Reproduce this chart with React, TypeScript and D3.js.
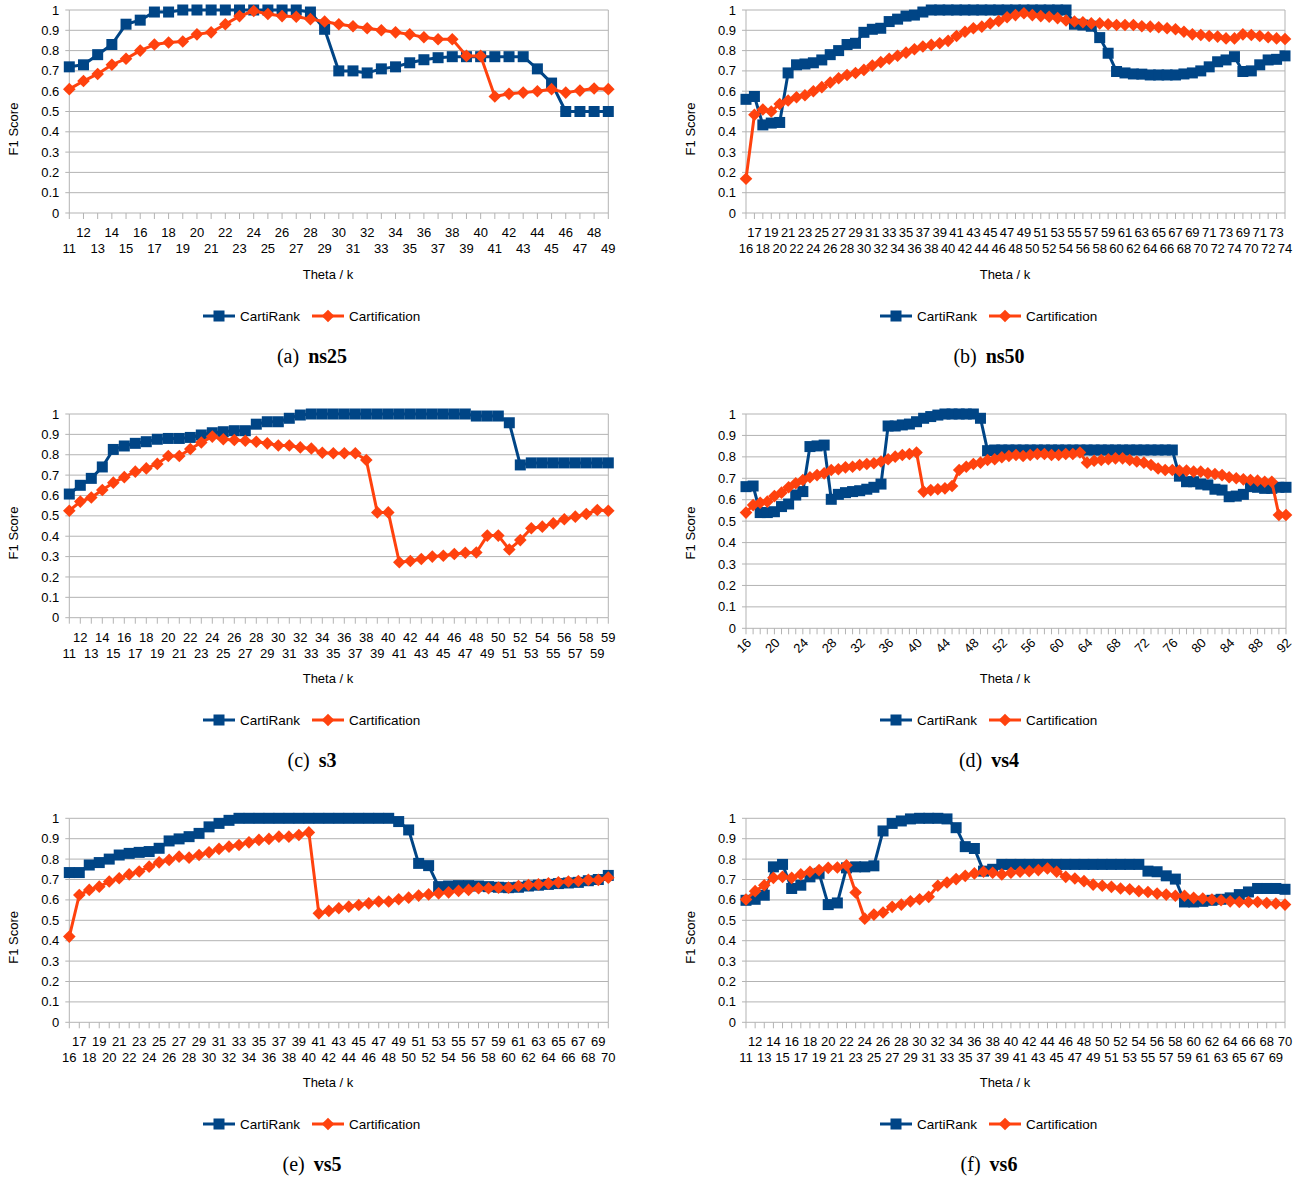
import React from 'react';
import * as d3 from 'd3';

const BLUE = '#004586';
const ORANGE = '#ff420e';
const GRID = '#b3b3b3';
const SANS = '"Liberation Sans", Arial, sans-serif';
const SERIF = '"Liberation Serif", "Times New Roman", serif';

const yTickValues = [0, 0.1, 0.2, 0.3, 0.4, 0.5, 0.6, 0.7, 0.8, 0.9, 1];
const yTickLabels = ['0', '0.1', '0.2', '0.3', '0.4', '0.5', '0.6', '0.7', '0.8', '0.9', '1'];
const seriesNames = ['CartiRank', 'Cartification'];

// (a) ns25
const aCats = [11,12,13,14,15,16,17,18,19,20,21,22,23,24,25,26,27,28,29,30,31,32,33,34,35,36,37,38,39,40,41,42,43,44,45,46,47,48,49];
const aCarti = [0.72,0.73,0.78,0.83,0.93,0.95,0.99,0.99,1,1,1,1,1,1,1,1,1,0.99,0.905,0.70,0.70,0.69,0.71,0.72,0.74,0.755,0.765,0.77,0.77,0.77,0.77,0.77,0.77,0.71,0.64,0.50,0.50,0.50,0.50];
const aCert = [0.61,0.65,0.685,0.73,0.76,0.80,0.83,0.84,0.845,0.88,0.89,0.93,0.97,0.995,0.98,0.97,0.967,0.955,0.943,0.93,0.92,0.91,0.90,0.89,0.88,0.866,0.856,0.856,0.774,0.774,0.574,0.587,0.593,0.60,0.61,0.593,0.603,0.613,0.61];

// (b) ns50
const bCats = [16,17,18,19,20,21,22,23,24,25,26,27,28,29,30,31,32,33,34,35,36,37,38,39,40,41,42,43,44,45,46,47,48,49,50,51,52,53,54,55,56,57,58,59,60,61,62,63,64,65,66,67,68,69,70,71,72,73,74,69,70,71,72,73,74];
const bCarti = [0.56,0.574,0.434,0.443,0.446,0.69,0.73,0.734,0.74,0.754,0.78,0.80,0.83,0.836,0.89,0.905,0.91,0.943,0.955,0.97,0.975,0.99,
  1,1,1,1,1,1,1,1,1,1,1,1,1,1,1,1,1,
  0.93,0.926,0.92,0.864,0.787,0.697,0.69,0.685,0.684,0.68,0.68,0.68,0.68,0.685,0.69,0.70,0.72,0.745,0.754,0.77,
  0.697,0.70,0.73,0.754,0.757,0.774];
const bCert = [0.169,0.484,0.51,0.50,0.537,0.554,0.57,0.58,0.60,0.62,0.643,0.664,0.68,0.69,0.705,0.726,0.743,0.76,0.775,0.79,0.807,0.82,0.828,0.836,0.848,0.872,0.893,0.91,0.918,0.934,0.946,0.964,0.975,0.984,0.975,0.97,0.967,0.96,0.948,0.943,0.94,0.934,0.934,0.93,0.926,0.926,0.926,0.92,0.918,0.915,0.91,0.905,0.893,0.88,0.877,0.872,0.869,0.86,0.86,
  0.88,0.877,0.872,0.866,0.86,0.857];

// (c) s3
const cCats = [11,12,13,14,15,16,17,18,19,20,21,22,23,24,25,26,27,28,29,30,31,32,33,34,35,36,37,38,39,40,41,42,43,44,45,46,47,48,49,50,51,52,53,54,55,56,57,58,59,59];
const cCarti = [0.607,0.65,0.684,0.74,0.826,0.843,0.856,0.864,0.876,0.88,0.88,0.885,0.897,0.908,0.913,0.918,0.918,0.95,0.962,0.962,0.979,0.995,
  1,1,1,1,1,1,1,1,1,1,1,1,1,1,1,
  0.99,0.99,0.99,0.957,0.75,0.76,0.76,0.76,0.76,0.76,0.76,0.76,0.76];
const cCert = [0.525,0.57,0.59,0.627,0.663,0.69,0.717,0.733,0.755,0.794,0.794,0.828,0.86,0.889,0.876,0.872,0.869,0.864,0.856,0.845,0.845,0.836,0.831,0.81,0.807,0.807,0.807,0.774,0.517,0.517,0.272,0.278,0.288,0.30,0.304,0.313,0.319,0.32,0.403,0.403,0.335,0.381,0.439,0.447,0.463,0.483,0.496,0.509,0.529,0.525];

// (d) vs4
const dCats = [16,17,18,19,20,21,22,23,24,25,26,27,28,29,30,31,32,33,34,35,36,37,38,39,40,41,42,43,44,45,46,47,48,49,50,51,52,53,54,55,56,57,58,59,60,61,62,63,64,65,66,67,68,69,70,71,72,73,74,75,76,77,78,79,80,81,82,83,84,85,86,87,88,89,90,91,92];
const dCarti = [0.661,0.664,0.54,0.54,0.544,0.568,0.58,0.622,0.638,0.848,0.851,0.855,0.602,0.625,0.633,0.638,0.642,0.649,0.658,0.673,0.944,0.944,0.949,0.953,0.964,0.98,0.988,0.995,1,1,1,1,1,0.98,0.829,0.832,
  0.832,0.832,0.832,0.832,0.832,0.832,0.832,0.832,0.832,0.832,0.832,0.832,0.832,0.832,0.832,0.832,0.832,0.832,0.832,0.832,0.832,0.832,0.832,0.832,0.832,
  0.71,0.684,0.684,0.673,0.669,0.649,0.645,0.614,0.617,0.625,0.661,0.658,0.653,0.653,0.658,0.658];
const dCert = [0.54,0.575,0.586,0.591,0.617,0.633,0.658,0.677,0.692,0.705,0.715,0.723,0.739,0.742,0.751,0.754,0.762,0.767,0.77,0.778,0.789,0.801,0.809,0.813,0.82,0.638,0.645,0.649,0.653,0.664,0.739,0.754,0.767,0.773,0.785,
  0.789,0.798,0.804,0.809,0.804,0.809,0.813,0.813,0.809,0.809,0.813,0.813,0.82,0.773,0.782,0.785,0.789,0.793,0.793,0.785,0.778,0.773,0.762,0.746,0.739,0.739,0.736,0.736,0.731,0.731,0.723,0.72,0.715,0.705,0.70,0.695,0.692,0.689,0.684,0.684,0.529,0.529];

// (e) vs5
const eCats = [16,17,18,19,20,21,22,23,24,25,26,27,28,29,30,31,32,33,34,35,36,37,38,39,40,41,42,43,44,45,46,47,48,49,50,51,52,53,54,55,56,57,58,59,60,61,62,63,64,65,66,67,68,69,70];
const eCarti = [0.734,0.734,0.771,0.783,0.80,0.82,0.828,0.833,0.837,0.853,0.889,0.899,0.91,0.926,0.958,0.975,0.99,1,
  1,1,1,1,1,1,1,1,1,1,1,1,1,1,1,
  0.984,0.943,0.779,0.768,0.665,
  0.668,0.67,0.67,0.668,0.665,0.662,0.66,0.662,0.668,0.672,0.676,0.68,0.683,0.686,0.694,0.70,0.72];
const eCert = [0.42,0.624,0.649,0.665,0.69,0.706,0.725,0.739,0.763,0.784,0.796,0.812,0.807,0.82,0.833,0.85,0.861,0.869,0.882,0.894,0.899,0.91,0.91,0.918,0.931,0.534,0.546,
  0.559,0.567,0.575,0.583,0.592,0.592,0.603,0.611,0.621,0.627,0.632,0.637,0.644,0.649,0.657,0.657,0.66,0.66,0.668,0.673,0.676,0.681,0.686,0.69,0.693,0.698,0.698,0.709];

// (f) vs6
const fCats = [11,12,13,14,15,16,17,18,19,20,21,22,23,24,25,26,27,28,29,30,31,32,33,34,35,36,37,38,39,40,41,42,43,44,45,46,47,48,49,50,51,52,53,54,55,56,57,58,59,60,61,62,63,64,65,66,67,68,69,70];
const fCarti = [0.598,0.603,0.623,0.762,0.774,0.656,0.672,0.713,0.73,0.577,0.585,0.757,0.762,0.762,0.767,0.938,0.975,0.987,0.997,1,1,1,0.997,0.954,0.861,0.852,0.741,0.75,
  0.774,0.774,0.774,0.774,0.774,0.774,0.774,0.774,0.774,0.774,0.774,0.774,0.774,0.774,0.774,0.774,
  0.741,0.738,0.718,0.702,0.59,0.59,0.593,0.598,0.603,0.61,0.626,0.639,0.656,0.656,0.656,0.652];
const fCert = [0.602,0.643,0.672,0.708,0.713,0.708,0.725,0.738,0.746,0.757,0.759,0.77,0.636,0.508,0.528,0.538,0.566,0.577,0.593,0.603,0.615,0.669,0.685,0.702,0.718,0.73,0.738,0.733,
  0.725,0.733,0.738,0.741,0.746,0.754,0.738,0.713,0.705,0.692,0.675,0.669,0.664,0.656,0.652,0.643,0.639,0.631,0.626,0.62,0.62,0.61,0.607,0.602,0.598,0.593,0.59,0.59,0.59,0.585,0.582,0.577];

type Cfg = {
  cats: number[]; carti: number[]; cert: number[];
  x0: number; x1: number; yTop: number; yBot: number; rotated?: boolean;
  letter: string; name: string; titleY: number; legendY: number; captionY: number;
  center: number; yLabelX: number; titleX: number;
};

const L = { x0: 69.3, x1: 608.3, center: 312, yLabelX: 18, titleX: 328 };
const R = { x0: 746, x1: 1285, center: 989, yLabelX: 695, titleX: 1005 };
const row1 = { yTop: 10, yBot: 213, titleY: 279, legendY: 316, captionY: 363 };
const row2 = { yTop: 414, yBot: 617.7, titleY: 683, legendY: 720, captionY: 767 };
const row3 = { yTop: 818.3, yBot: 1022.3, titleY: 1087, legendY: 1124, captionY: 1171 };

const panels: Cfg[] = [
  { cats: aCats, carti: aCarti, cert: aCert, ...L, ...row1, letter: '(a)', name: 'ns25' },
  { cats: bCats, carti: bCarti, cert: bCert, ...R, ...row1, letter: '(b)', name: 'ns50' },
  { cats: cCats, carti: cCarti, cert: cCert, ...L, ...row2, letter: '(c)', name: 's3' },
  { cats: dCats, carti: dCarti, cert: dCert, ...R, ...row2, yBot: 628.3, x1: 1286, rotated: true, letter: '(d)', name: 'vs4' },
  { cats: eCats, carti: eCarti, cert: eCert, ...L, ...row3, letter: '(e)', name: 'vs5' },
  { cats: fCats, carti: fCarti, cert: fCert, ...R, ...row3, letter: '(f)', name: 'vs6' },
];

const SQ = 11;
const DI = 6.3;

function Square({ cx, cy }: { cx: number; cy: number }) {
  return <rect x={cx - SQ / 2} y={cy - SQ / 2} width={SQ} height={SQ} fill={BLUE} />;
}
function Diamond({ cx, cy }: { cx: number; cy: number }) {
  return <polygon points={`${cx},${cy - DI} ${cx + DI},${cy} ${cx},${cy + DI} ${cx - DI},${cy}`} fill={ORANGE} />;
}

function Panel({ cfg }: { cfg: Cfg }) {
  const idx = cfg.cats.map((_, i) => String(i));
  const x = d3.scalePoint<string>().domain(idx).range([cfg.x0, cfg.x1]).padding(0);
  const y = d3.scaleLinear().domain([0, 1]).range([cfg.yBot, cfg.yTop]);
  const line = d3.line<number>().x((_, i) => x(String(i)) as number).y((d) => y(d));
  const labelY = cfg.yTop + 119;
  const lx = cfg.center - 109;
  return (
    <g>
      {yTickValues.map((v, i) => (
        <g key={'y' + i}>
          <line x1={cfg.x0} x2={cfg.x1} y1={y(v)} y2={y(v)} stroke={GRID} strokeWidth={1} />
          <line x1={cfg.x0 - 4} x2={cfg.x0} y1={y(v)} y2={y(v)} stroke={GRID} strokeWidth={1} />
          <text x={cfg.x0 - 10} y={y(v)} dy="0.35em" textAnchor="end" fontSize={13} fontFamily={SANS} fill="#000">
            {yTickLabels[i]}
          </text>
        </g>
      ))}
      <line x1={cfg.x0} x2={cfg.x0} y1={cfg.yTop} y2={cfg.yBot} stroke={GRID} strokeWidth={1} />
      <line x1={cfg.x1} x2={cfg.x1} y1={cfg.yTop} y2={cfg.yBot} stroke={GRID} strokeWidth={1} />
      {cfg.cats.map((c, i) => {
        const px = x(String(i)) as number;
        return (
          <g key={'x' + i}>
            <line x1={px} x2={px} y1={cfg.yBot} y2={cfg.yBot + 6} stroke={GRID} strokeWidth={1} />
            {cfg.rotated ? (
              i % 4 === 0 ? (
                <text transform={`translate(${px + 3},${cfg.yBot + 12}) rotate(-45)`} dy="0.35em" textAnchor="end" fontSize={13} fontFamily={SANS}>
                  {c}
                </text>
              ) : null
            ) : (
              <text x={px} y={cfg.yBot + (i % 2 === 0 ? 40 : 24)} textAnchor="middle" fontSize={13} fontFamily={SANS}>
                {c}
              </text>
            )}
          </g>
        );
      })}
      <text transform={`translate(${cfg.yLabelX},${labelY}) rotate(-90)`} textAnchor="middle" fontSize={13} fontFamily={SANS}>
        F1 Score
      </text>
      <text x={cfg.titleX} y={cfg.titleY} textAnchor="middle" fontSize={13} fontFamily={SANS}>
        Theta / k
      </text>
      <path d={line(cfg.carti) || ''} fill="none" stroke={BLUE} strokeWidth={3} strokeLinejoin="round" />
      {cfg.carti.map((v, i) => (
        <Square key={'s' + i} cx={x(String(i)) as number} cy={y(v)} />
      ))}
      <path d={line(cfg.cert) || ''} fill="none" stroke={ORANGE} strokeWidth={3} strokeLinejoin="round" />
      {cfg.cert.map((v, i) => (
        <Diamond key={'d' + i} cx={x(String(i)) as number} cy={y(v)} />
      ))}
      {/* legend */}
      <line x1={lx} x2={lx + 32} y1={cfg.legendY} y2={cfg.legendY} stroke={BLUE} strokeWidth={3} />
      <Square cx={lx + 16} cy={cfg.legendY} />
      <text x={lx + 37} y={cfg.legendY} dy="0.35em" fontSize={13.5} fontFamily={SANS}>{seriesNames[0]}</text>
      <line x1={lx + 109} x2={lx + 141} y1={cfg.legendY} y2={cfg.legendY} stroke={ORANGE} strokeWidth={3} />
      <Diamond cx={lx + 125} cy={cfg.legendY} />
      <text x={lx + 146} y={cfg.legendY} dy="0.35em" fontSize={13.5} fontFamily={SANS}>{seriesNames[1]}</text>
      {/* caption */}
      <text x={cfg.center} y={cfg.captionY} textAnchor="middle" fontSize={20} fontFamily={SERIF}>
        {cfg.letter}
        <tspan dx={9} fontWeight="bold">{cfg.name}</tspan>
      </text>
    </g>
  );
}

export default function App() {
  return (
    <div style={{ position: 'absolute', left: 0, top: 0 }}>
      <svg width={1303} height={1177} style={{ display: 'block', background: '#fff' }}>
        <rect width={1303} height={1177} fill="#fff" />
        {panels.map((p, i) => (
          <Panel key={i} cfg={p} />
        ))}
      </svg>
    </div>
  );
}
